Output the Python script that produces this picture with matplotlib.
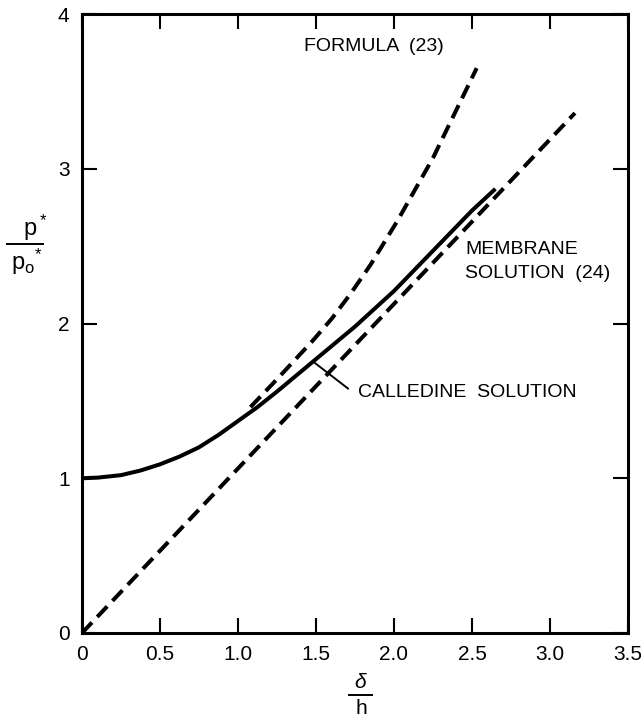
import matplotlib
matplotlib.use("Agg")
import matplotlib.pyplot as plt
from matplotlib.lines import Line2D

plt.rcParams['font.family'] = ['Liberation Sans', 'DejaVu Sans']
plt.rcParams['mathtext.fontset'] = 'custom'
plt.rcParams['mathtext.rm'] = 'Liberation Sans'
plt.rcParams['mathtext.it'] = 'Liberation Sans:italic'

# Data
calledine_x = [0.0, 0.1, 0.25, 0.375, 0.5, 0.625, 0.75, 0.875, 1.0, 1.125, 1.25,
               1.5, 1.75, 2.0, 2.25, 2.5, 2.65]
calledine_y = [1.0, 1.004, 1.02, 1.05, 1.09, 1.14, 1.2, 1.28, 1.37, 1.46, 1.56,
               1.77, 1.98, 2.21, 2.47, 2.73, 2.87]

formula_x = [1.08, 1.25, 1.48, 1.6, 1.72, 1.85, 2.02, 2.25, 2.53]
formula_y = [1.46, 1.64, 1.89, 2.03, 2.19, 2.38, 2.66, 3.07, 3.65]

membrane_x = [0.0, 3.16]
membrane_y = [0.0, 3.36]

x_ticks = [0, 0.5, 1.0, 1.5, 2.0, 2.5, 3.0, 3.5]
x_tick_labels = ["0", "0.5", "1.0", "1.5", "2.0", "2.5", "3.0", "3.5"]
y_ticks = [0, 1, 2, 3, 4]
y_tick_labels = ["0", "1", "2", "3", "4"]

W, H = 641, 721
fig = plt.figure(figsize=(W / 100, H / 100), dpi=100)
ax = fig.add_axes([82 / W, 1 - 633 / H, (628 - 82) / W, (633 - 14) / H])

lw = 2.9
dash = (3.6, 1.9)
ax.plot(calledine_x, calledine_y, color='black', lw=lw, solid_capstyle='butt',
        solid_joinstyle='round')
ax.plot(formula_x, formula_y, color='black', lw=lw, linestyle=(0, dash), dash_capstyle='butt')
ax.plot(membrane_x, membrane_y, color='black', lw=lw, linestyle=(0, dash), dash_capstyle='butt')

ax.set_xlim(0, 3.5)
ax.set_ylim(0, 4)
ax.set_xticks(x_ticks)
ax.set_xticklabels(x_tick_labels)
ax.set_yticks(y_ticks)
ax.set_yticklabels(y_tick_labels)
ax.tick_params(direction='in', length=10.5, width=1.5, top=True, right=True,
               labelsize=15, pad=9)
for s in ax.spines.values():
    s.set_linewidth(2.2)

fs = 14
ax.text(1.42, 3.79, "FORMULA  (23)", fontsize=fs, va='center', ha='left')
ax.text(2.455, 2.48, "MEMBRANE", fontsize=fs, va='center', ha='left')
ax.text(2.455, 2.32, "SOLUTION  (24)", fontsize=fs, va='center', ha='left')
ax.text(1.77, 1.555, "CALLEDINE  SOLUTION", fontsize=fs, va='center', ha='left')
ax.plot([1.48, 1.705], [1.755, 1.58], color='black', lw=1.4)

# y label as a fraction
fig.text(35 / W, 1 - 228 / H, r'$\mathrm{p^*}$', fontsize=17, ha='center', va='center')
fig.add_artist(Line2D([7 / W, 43 / W], [1 - 244 / H, 1 - 244 / H], color='black', lw=1.4))
fig.text(27 / W, 1 - 262 / H, r'$\mathrm{p_o{}^{*}}$', fontsize=17, ha='center', va='center')

# x label as a fraction
fig.text(361 / W, 1 - 683 / H, r'$\delta$', fontsize=15, ha='center', va='center')
fig.add_artist(Line2D([349 / W, 372 / W], [1 - 695 / H, 1 - 695 / H], color='black', lw=1.4))
fig.text(361 / W, 1 - 708 / H, 'h', fontsize=15, ha='center', va='center')

fig.savefig("out.png", dpi=100)
